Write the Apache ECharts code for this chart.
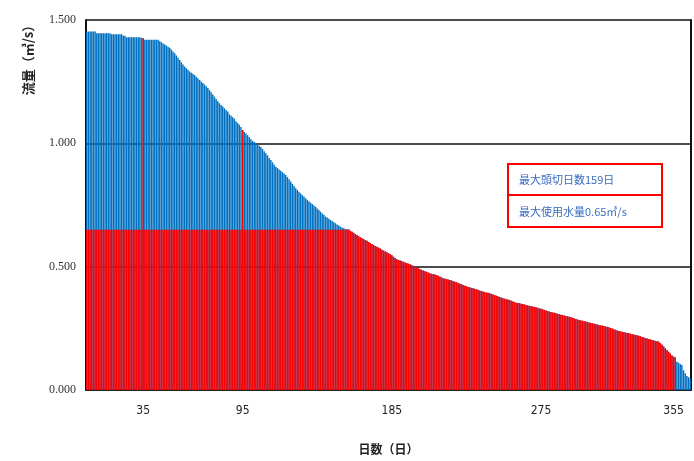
<!DOCTYPE html>
<html><head><meta charset="utf-8">
<script src="https://cdn.jsdelivr.net/npm/echarts@6/dist/echarts.min.js"></script>
<style>html,body{margin:0;padding:0;background:#fff}#c{width:694px;height:461px}</style>
</head><body><div id="c"></div>
<script>
// Daily flow (m3/s), sorted descending (flow duration curve), days 1..365
const flow = [
1.453,1.453,1.453,1.453,1.453,1.453,1.446,1.446,1.446,1.446,
1.446,1.446,1.446,1.446,1.446,1.442,1.442,1.442,1.442,1.442,
1.442,1.442,1.436,1.436,1.430,1.430,1.430,1.430,1.430,1.430,
1.430,1.430,1.430,1.428,1.426,1.420,1.420,1.420,1.420,1.420,
1.420,1.420,1.420,1.420,1.414,1.410,1.405,1.401,1.397,1.392,
1.388,1.380,1.372,1.365,1.356,1.347,1.338,1.329,1.320,1.311,
1.304,1.298,1.291,1.286,1.282,1.277,1.270,1.264,1.257,1.251,
1.245,1.239,1.231,1.224,1.216,1.207,1.198,1.189,1.180,1.171,
1.162,1.155,1.149,1.142,1.135,1.129,1.118,1.112,1.106,1.100,
1.090,1.082,1.075,1.066,1.054,1.046,1.040,1.033,1.025,1.017,
1.010,1.005,1.001,0.996,0.990,0.985,0.977,0.968,0.960,0.951,
0.941,0.932,0.923,0.914,0.905,0.900,0.894,0.889,0.883,0.878,
0.872,0.863,0.854,0.845,0.836,0.827,0.818,0.811,0.804,0.797,
0.790,0.784,0.777,0.771,0.765,0.759,0.754,0.748,0.743,0.736,
0.730,0.723,0.716,0.710,0.703,0.699,0.694,0.689,0.685,0.680,
0.676,0.671,0.667,0.662,0.659,0.656,0.653,0.652,0.651,0.645,
0.642,0.637,0.632,0.628,0.623,0.619,0.615,0.612,0.608,0.605,
0.600,0.596,0.592,0.588,0.584,0.581,0.577,0.574,0.569,0.565,
0.561,0.558,0.554,0.551,0.546,0.540,0.535,0.530,0.527,0.525,
0.522,0.520,0.517,0.515,0.512,0.510,0.507,0.503,0.500,0.497,
0.494,0.490,0.487,0.484,0.481,0.479,0.476,0.473,0.471,0.469,
0.468,0.466,0.463,0.459,0.456,0.453,0.451,0.450,0.448,0.446,
0.444,0.441,0.439,0.437,0.434,0.431,0.429,0.426,0.423,0.421,
0.418,0.416,0.414,0.412,0.410,0.408,0.406,0.403,0.401,0.399,
0.397,0.395,0.394,0.392,0.390,0.387,0.385,0.382,0.380,0.377,
0.375,0.372,0.370,0.368,0.367,0.365,0.362,0.359,0.357,0.354,
0.353,0.352,0.350,0.349,0.347,0.345,0.343,0.341,0.340,0.338,
0.337,0.335,0.333,0.331,0.329,0.327,0.325,0.322,0.320,0.318,
0.316,0.314,0.313,0.311,0.309,0.307,0.305,0.304,0.302,0.300,
0.299,0.297,0.295,0.293,0.291,0.288,0.286,0.284,0.282,0.281,
0.279,0.278,0.276,0.274,0.272,0.271,0.269,0.267,0.266,0.264,
0.262,0.261,0.259,0.257,0.256,0.254,0.251,0.249,0.246,0.244,
0.241,0.239,0.237,0.236,0.234,0.233,0.231,0.230,0.228,0.226,
0.225,0.223,0.222,0.220,0.218,0.215,0.213,0.211,0.209,0.207,
0.205,0.203,0.201,0.199,0.198,0.196,0.190,0.183,0.176,0.169,
0.162,0.155,0.148,0.140,0.135,0.132,0.115,0.111,0.105,0.101,
0.080,0.068,0.057,0.052,0.047
];
const days = flow.map((_, i) => String(i + 1));
const labelDays = [35, 95, 185, 275, 355];
const highlightDays = [35, 95];
const maxUse = 0.65;   // 最大使用水量
const minUse = 0.12;   // below this the flow is not used
const boxTexts = ['最大頭切日数159日', '最大使用水量0.65㎥/s'];

const usable = flow.map(v => v >= minUse ? Math.min(v, maxUse) : 0);
const highlight = flow.map((v, i) => highlightDays.includes(i + 1) ? v : '-');

const chart = echarts.init(document.getElementById('c'), null, {renderer: 'canvas'});
chart.setOption({
  backgroundColor: '#ffffff',
  animation: false,
  grid: {left: 86, right: 3, top: 20, bottom: 71, containLabel: false},
  xAxis: {
    type: 'category',
    data: days,
    boundaryGap: true,
    name: '日数（日）',
    nameLocation: 'middle',
    nameGap: 53,
    nameTextStyle: {fontFamily: 'Noto Sans CJK JP', fontSize: 12, fontWeight: 'bold', color: '#222'},
    axisLine: {show: true, lineStyle: {color: '#222', width: 2}},
    axisTick: {show: false},
    axisLabel: {
      interval: (idx, val) => labelDays.includes(Number(val)),
      margin: 15,
      fontFamily: 'Liberation Sans Narrow, DejaVu Sans Condensed, sans-serif',
      fontSize: 12,
      color: '#222'
    },
    splitLine: {show: false}
  },
  yAxis: [{
    type: 'value',
    min: 0, max: 1.5, interval: 0.5,
    name: '流量（㎥/s）',
    nameLocation: 'middle',
    nameGap: 51,
    nameRotate: 90,
    nameTextStyle: {fontFamily: 'Noto Sans CJK JP', fontSize: 13, fontWeight: 'bold', color: '#222', padding: [0, 0, 0, 296]},
    axisLine: {show: true, lineStyle: {color: '#111', width: 2}},
    axisTick: {show: false},
    axisLabel: {
      formatter: v => v.toFixed(3),
      margin: 10,
      fontFamily: 'Liberation Serif, serif',
      fontSize: 12,
      color: '#333'
    },
    splitLine: {show: true, lineStyle: {color: '#111', width: 1.5}}
  }, {
    type: 'value',
    position: 'right',
    min: 0, max: 1.5, interval: 0.5,
    axisLine: {show: true, lineStyle: {color: '#111', width: 2}},
    axisTick: {show: false},
    axisLabel: {show: false},
    splitLine: {show: false}
  }],
  series: [{
    type: 'bar',
    name: 'flow',
    data: flow,
    barCategoryGap: '12%',
    barGap: '-100%',
    itemStyle: {color: '#0070C0'},
    silent: true
  }, {
    type: 'bar',
    name: 'usable',
    data: usable,
    barGap: '-100%',
    itemStyle: {color: '#FF0000'},
    silent: true
  }, {
    type: 'bar',
    name: 'highlight',
    data: highlight,
    barGap: '-100%',
    barCategoryGap: '12%',
    itemStyle: {color: '#FF0000', borderColor: '#FF0000', borderWidth: 1.2},
    silent: true
  }],
  graphic: [{
    type: 'group',
    left: 507, top: 163,
    children: [{
      type: 'rect', shape: {x: 0, y: 0, width: 154, height: 31},
      style: {fill: '#fff', stroke: '#FF0000', lineWidth: 2}
    }, {
      type: 'rect', shape: {x: 0, y: 31, width: 154, height: 32},
      style: {fill: '#fff', stroke: '#FF0000', lineWidth: 2}
    }, {
      type: 'text', x: 11, y: 16,
      style: {text: boxTexts[0], fill: '#3A6CC0', font: '11px "Noto Sans CJK JP"', textVerticalAlign: 'middle'}
    }, {
      type: 'text', x: 11, y: 48,
      style: {text: boxTexts[1], fill: '#3A6CC0', font: '11px "Noto Sans CJK JP"', textVerticalAlign: 'middle'}
    }]
  }]
});
</script>
</body></html>
